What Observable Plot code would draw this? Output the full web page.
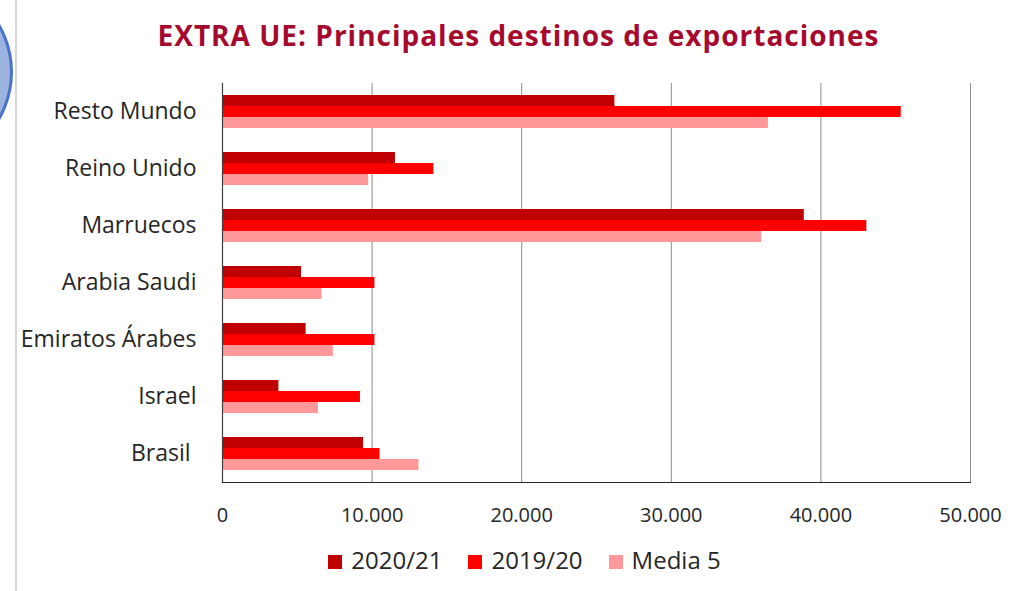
<!DOCTYPE html>
<html>
<head>
<meta charset="utf-8">
<script src="https://cdn.jsdelivr.net/npm/d3@7"></script>
<script src="https://cdn.jsdelivr.net/npm/@observablehq/plot@0.6"></script>
<style>
  body { margin: 0; background: #fff; font-family: "Open Sans", sans-serif; }
  #wrap { position: relative; width: 1013px; height: 591px; overflow: hidden; background: #fff; }
  #deco-circle { position: absolute; left: -177px; top: -23px; width: 184px; height: 184px; border-radius: 50%;
    background: #9cb3e0; border: 3px solid #4a74c9; }
  #deco-line { position: absolute; left: 15px; top: 0; width: 2px; height: 591px; background: #d6d6d6; }
  #title { position: absolute; left: 12px; top: 21px; width: 1013px; text-align: center; font-weight: 700;
    font-size: 28px; line-height: 28px; letter-spacing: 1px; color: #a50a2e; white-space: nowrap; }
  #chart { position: absolute; left: 0; top: 60px; }
  #legend { position: absolute; left: 0; top: 548px; width: 1013px; display: flex; justify-content: center;
    padding-left: 36px; box-sizing: border-box; font-size: 24px; line-height: 24px; color: #262626; }
  .item { display: flex; align-items: center; margin: 0 13px; }
  .sw { width: 14px; height: 14px; margin-right: 9px; margin-top: 3px; }
  g[aria-label="fy-axis tick label"] text { font-size: 23px; }
</style>
</head>
<body>
<div id="wrap">
  <div id="deco-circle"></div>
  <div id="deco-line"></div>
  <div id="title">EXTRA UE: Principales destinos de exportaciones</div>
  <div id="chart"></div>
  <div id="legend"></div>
</div>
<script>
const countries = ["Resto Mundo", "Reino Unido", "Marruecos", "Arabia Saudi", "Emiratos Árabes", "Israel", "Brasil "];
const series = ["2020/21", "2019/20", "Media 5"];
const v2020_21 = [26230, 11560, 38890, 5280, 5590, 3770, 9430];
const v2019_20 = [45370, 14130, 43070, 10190, 10190, 9220, 10530];
const media5   = [36490, 9770, 36040, 6650, 7410, 6410, 13130];
const xTicks = [0, 10000, 20000, 30000, 40000, 50000];
const colors = ["#c00000", "#ff0000", "#ff9999"];

const seriesValues = [v2020_21, v2019_20, media5];
const data = [];
countries.forEach((c, i) => series.forEach((s, j) => data.push({country: c, series: s, value: seriesValues[j][i]})));

const fmt = d => d3.format(",")(d).replace(/,/g, ".");

const chart = Plot.plot({
  width: 1013,
  height: 472,
  marginLeft: 222,
  marginRight: 43,
  marginTop: 23,
  marginBottom: 50,
  style: {fontFamily: "Open Sans", fontSize: "20px", color: "#262626", background: "transparent"},
  x: {domain: [0, 50000], ticks: xTicks, tickFormat: fmt, tickSize: 0, tickPadding: 25, line: true, label: null},
  fy: {domain: countries, padding: 0, tickSize: 0, tickPadding: 26, label: null},
  y: {domain: series, axis: null, paddingInner: 0, paddingOuter: 0.94},
  color: {domain: series, range: colors},
  marks: [
    Plot.ruleX(xTicks.slice(1), {stroke: "#8c8c8c", strokeWidth: 1}),
    Plot.barX(data, {x: "value", y: "series", fy: "country", fill: "series"}),
    Plot.ruleX([0], {stroke: "#404040", strokeWidth: 1.2})
  ]
});
document.getElementById("chart").appendChild(chart);

const legend = document.getElementById("legend");
series.forEach((s, i) => {
  const it = document.createElement("div");
  it.className = "item";
  const sw = document.createElement("div");
  sw.className = "sw";
  sw.style.background = colors[i];
  const t = document.createElement("span");
  t.textContent = s;
  it.appendChild(sw); it.appendChild(t);
  legend.appendChild(it);
});
</script>
</body>
</html>
